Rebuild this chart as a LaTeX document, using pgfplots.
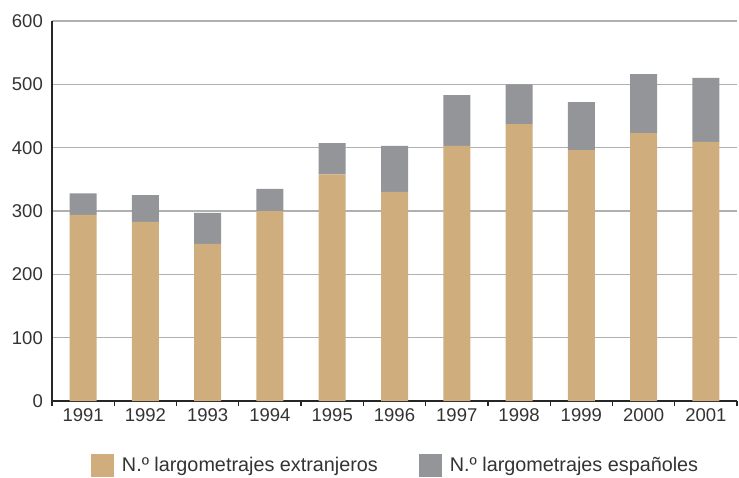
\documentclass[border=0pt]{standalone}
\usepackage{fontspec}
\setmainfont{Liberation Sans}
\usepackage{pgfplots}
\pgfplotsset{compat=1.18}
\definecolor{tanbar}{RGB}{207,173,125}
\definecolor{graybar}{RGB}{148,149,153}
\definecolor{gridc}{RGB}{176,176,176}
\definecolor{txt}{RGB}{51,51,51}
\begin{document}
\begin{tikzpicture}
\path[use as bounding box] (0,0) rectangle (739pt,477pt);
\begin{axis}[
  at={(52pt,76pt)}, anchor=south west,
  scale only axis, width=685pt, height=380pt,
  xmin=-0.5, xmax=10.5, ymin=0, ymax=600,
  ybar stacked, bar width=27pt,
  axis lines=left, axis line style={-, draw=black!85, line width=1.4pt},
  xtick={0,...,10},
  xticklabels={1991,1992,1993,1994,1995,1996,1997,1998,1999,2000,2001},
  minor xtick={-0.5,0.5,...,10.5},
  ytick={0,100,...,600},
  major tick length=0pt, minor tick length=5pt, tick align=outside,
  minor tick style={draw=black!85, line width=1.2pt},
  ymajorgrids, grid style={gridc, line width=1.3pt},
  /pgf/number format/assume math mode=true,
  tick label style={font=\fontsize{18.5}{20}\selectfont, text=txt},
  yticklabel style={inner sep=0pt, xshift=-9pt},
  xticklabel style={inner sep=0pt, yshift=-7pt},
  legend columns=2,
  legend style={draw=none, fill=none, inner sep=0pt, outer sep=0pt,
    at={(axis description cs:0.0569,-0.1697)}, anchor=west,
    font=\fontsize{19.8}{22}\selectfont, text=txt,
    nodes={inner sep=0pt},
    /tikz/every odd column/.append style={column sep=8pt},
    /tikz/every even column/.append style={column sep=41pt}},
  legend image code/.code={\fill[#1] (0pt,-11.5pt) rectangle (23pt,11.5pt);},
]
\addplot[fill=tanbar, draw=none] coordinates {
 (0,294) (1,283) (2,248) (3,300) (4,358) (5,330) (6,403) (7,437) (8,396) (9,423) (10,409)};
\addplot[fill=graybar, draw=none] coordinates {
 (0,34) (1,42) (2,49) (3,35) (4,49) (5,73) (6,80) (7,63) (8,76) (9,93) (10,101)};
\legend{N.º largometrajes extranjeros, N.º largometrajes españoles}
\end{axis}
\end{tikzpicture}
\end{document}
